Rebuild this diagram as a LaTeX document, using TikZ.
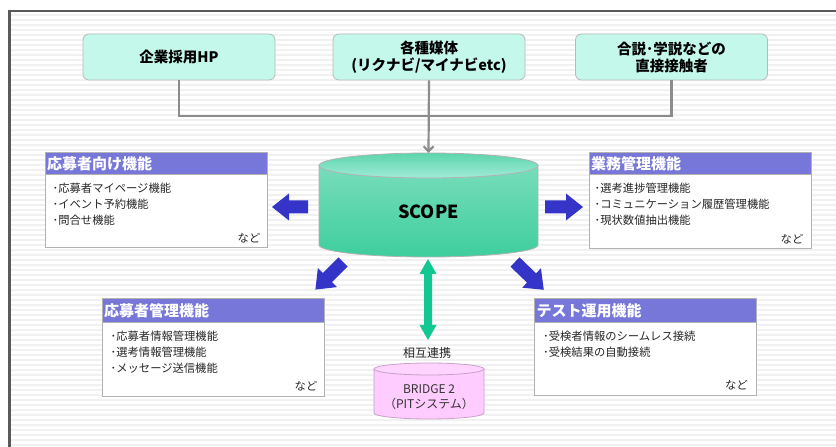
\documentclass[tikz,border=0pt]{standalone}
\usepackage{fontspec}
\setmainfont{Noto Sans CJK JP}
\usetikzlibrary{arrows.meta,calc}
\definecolor{mintc}{HTML}{C4F8EA}
\definecolor{headc}{HTML}{7777DA}
\definecolor{bluea}{HTML}{3434C8}
\definecolor{greena}{HTML}{12C892}
\definecolor{pinkc}{HTML}{FFCCFF}
\definecolor{pinkb}{HTML}{C8A0C8}
\definecolor{scopetop}{HTML}{78E2C6}
\definecolor{scopedark}{HTML}{3ECE9E}
\definecolor{linec}{HTML}{8C8C8C}
\definecolor{framec}{HTML}{5A5A5A}
\definecolor{stripec}{HTML}{F1F1F1}
\newcommand\myblockarrow[3]{%
  \fill[bluea, shift={(#1)}, rotate=#2] (0,-6.5) -- (#3-17,-6.5) -- (#3-17,-13.5) -- (#3,0) -- (#3-17,13.5) -- (#3-17,6.5) -- (0,6.5) -- cycle;}
\begin{document}
\begin{tikzpicture}[x=1pt,y=1pt,
  topbox/.style={draw=gray!55, line width=0.8pt, fill=mintc, rounded corners=6pt, minimum width=192pt, minimum height=46pt, inner sep=0pt, align=center, font=\bfseries\fontsize{14.5}{17}\selectfont},
  fbox/.style={draw=gray!60, line width=1pt, fill=white, minimum width=222pt, inner sep=0pt},
  fhead/.style={draw=gray!60, line width=1pt, fill=headc, text=white, minimum width=222pt, inner sep=0pt, anchor=north, text width=218pt, align=left, font=\bfseries\fontsize{15}{17}\selectfont},
  items/.style={anchor=north west, inner sep=0pt, align=left, font=\fontsize{11.3}{15.7}\selectfont, text=black!85},
  nado/.style={anchor=south east, inner sep=0pt, font=\fontsize{11.3}{13}\selectfont, text=black!85},
  feed/.style={draw=linec, line width=2.2pt},
  anchorbox/.style={inner sep=0pt, draw=none},
]
\useasboundingbox (0,0) rectangle (836,447);
% background stripes and frame
\fill[white] (0,0) rectangle (836,447);
\foreach \yy in {1,6,...,431} \fill[stripec] (10,\yy) rectangle (836,\yy+2);
\draw[framec, line width=2.5pt] (9.5,0) -- (9.5,436) -- (836,436);

% top source boxes
\node[topbox] (b1) at (179,390) {企業採用HP};
\node[topbox] (b2) at (429,390) {各種媒体\\(リクナビ/マイナビetc)};
\node[topbox] (b3) at (671.5,390) {合説･学説などの\\直接接触者};

% SCOPE cylinder
\node[anchorbox, minimum width=219pt, minimum height=104pt] (scopebox) at (428.5,242) {};
\shade[top color=scopedark!70, middle color=white, bottom color=scopedark] (319,281.5) -- (319,202) arc[start angle=180,end angle=360,x radius=109.5,y radius=12] -- (538,281.5) -- cycle;
\draw[gray!60, line width=0.8pt] (319,281.5) -- (319,202) arc[start angle=180,end angle=360,x radius=109.5,y radius=12] -- (538,281.5);
\shade[top color=scopedark!85, bottom color=scopetop!70] (428.5,281.5) ellipse[x radius=109.5, y radius=12.5];
\draw[gray!60, line width=0.8pt] (428.5,281.5) ellipse[x radius=109.5, y radius=12.5];
\node[font=\bfseries\fontsize{18}{20}\selectfont] (scope) at (428.5,235) {SCOPE};

% feed connectors
\coordinate (j) at (429,331);
\draw[feed] (b1.south) |- (j) -| (b3.south);
\draw[feed, -{Straight Barb[length=5pt,width=10pt]}] (b2.south) -- (scopebox.north);

% function boxes
\node[fbox, minimum height=95pt] (b4) at (156,246.5) {};
\node[fhead, minimum height=22pt] (h4) at (b4.north) {応募者向け機能};
\node[items] (i4) at ($(b4.north west)+(8,-30.5)$) {･応募者マイページ機能\\･イベント予約機能\\･問合せ機能};
\node[nado] (n4) at ($(b4.south east)+(-7,5.5)$) {など};

\node[fbox, minimum height=96pt] (b5) at (700,246) {};
\node[fhead, minimum height=22pt] (h5) at (b5.north) {業務管理機能};
\node[items] (i5) at ($(b5.north west)+(6,-30.5)$) {･選考進捗管理機能\\･コミュニケーション履歴管理機能\\･現状数値抽出機能};
\node[nado] (n5) at ($(b5.south east)+(-8,5.5)$) {など};

\node[fbox, minimum height=98pt] (b6) at (213,99) {};
\node[fhead, minimum height=24pt] (h6) at (b6.north) {応募者管理機能};
\node[items] (i6) at ($(b6.north west)+(9,-32.5)$) {･応募者情報管理機能\\･選考情報管理機能\\･メッセージ送信機能};
\node[nado] (n6) at ($(b6.south east)+(-7,6.5)$) {など};

\node[fbox, minimum height=97pt] (b7) at (645.5,99.5) {};
\node[fhead, minimum height=24pt] (h7) at (b7.north) {テスト運用機能};
\node[items] (i7) at ($(b7.north west)+(9,-32.5)$) {･受検者情報のシームレス接続\\･受検結果の自動接続};
\node[nado] (n7) at ($(b7.south east)+(-9,6.5)$) {など};

% blue block arrows from SCOPE to the function boxes
\coordinate (tl) at (308,240);
\coordinate (tr) at (545,240);
\coordinate (tdl) at (343,185);
\coordinate (tdr) at (515,185);
\myblockarrow{tl}{180}{36}
\myblockarrow{tr}{0}{38}
\myblockarrow{tdl}{225}{39}
\myblockarrow{tdr}{316}{40}

% BRIDGE 2 cylinder
\fill[pinkc] (374,78) -- (374,34) arc[start angle=180,end angle=360,x radius=55,y radius=6] -- (484,78) -- cycle;
\draw[pinkb, line width=0.8pt] (374,78) -- (374,34) arc[start angle=180,end angle=360,x radius=55,y radius=6] -- (484,78);
\filldraw[fill=pinkc!85!white, draw=pinkb, line width=0.8pt] (429,78) ellipse[x radius=55, y radius=6];
\node[anchorbox, align=center, font=\fontsize{12}{15}\selectfont, text=black!80] (bridge) at (429,49.5) {BRIDGE 2\\（PITシステム）};
\node[font=\fontsize{12}{14}\selectfont, text=black!85] (renkei) at (427,94) {相互連携};

% green two-way link
\coordinate (gt) at (428,188);
\coordinate (gb) at (428,107);
\fill[greena] (gt) -- ++(8.5,-15) -- ++(-4.5,0) -- ($(gb)+(4,15)$) -- ++(4.5,0) -- (gb) -- ++(-8.5,15) -- ++(4.5,0) -- ($(gt)+(-4,-15)$) -- ++(-4.5,0) -- cycle;
\end{tikzpicture}
\end{document}
